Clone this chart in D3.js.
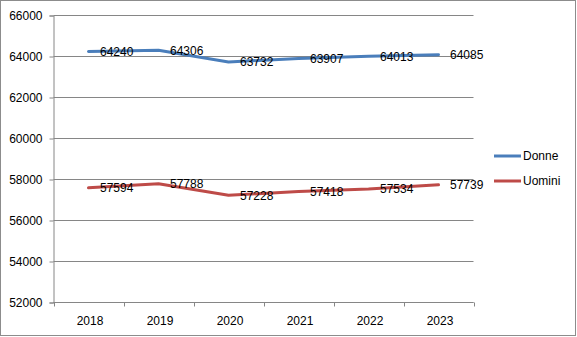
<!DOCTYPE html>
<html>
<head>
<meta charset="utf-8">
<script src="https://cdn.jsdelivr.net/npm/d3@7"></script>
<style>
  html, body { margin: 0; padding: 0; background: #fff; }
  svg { display: block; font-family: "Liberation Sans", Arial, sans-serif; }
</style>
</head>
<body>
<svg id="chart" width="577" height="337"></svg>
<script>
// Years on the category axis
const years = ["2018", "2019", "2020", "2021", "2022", "2023"];
// Population by sex
const donne = [64240, 64306, 63732, 63907, 64013, 64085];
const uomini = [57594, 57788, 57228, 57418, 57534, 57739];
// Value axis ticks
const yTicks = [52000, 54000, 56000, 58000, 60000, 62000, 64000, 66000];

const series = [
  { name: "Donne", values: donne, color: "#4a7ebb" },
  { name: "Uomini", values: uomini, color: "#be4b48" }
];

const svg = d3.select("#chart");
const gridColor = "#868686";

// Outer chart frame
svg.append("rect")
  .attr("x", 0.5).attr("y", 0.5)
  .attr("width", 575).attr("height", 335)
  .attr("fill", "#fff").attr("stroke", "#8c8c8c");

const plot = { left: 53.5, right: 473.5, top: 15.5, bottom: 302.5 };

const x = d3.scaleBand().domain(years).range([plot.left, plot.right]);
const y = d3.scaleLinear().domain([52000, 66000]).range([plot.bottom, plot.top]);

// Horizontal gridlines
svg.append("g")
  .selectAll("line")
  .data(yTicks)
  .join("line")
  .attr("x1", plot.left).attr("x2", plot.right)
  .attr("y1", d => y(d)).attr("y2", d => y(d))
  .attr("stroke", gridColor);

// Value axis
const yAxis = svg.append("g")
  .attr("transform", `translate(${plot.left},0)`)
  .call(d3.axisLeft(y).tickValues(yTicks).tickFormat(d3.format("d")).tickSize(4).tickPadding(7));
yAxis.select(".domain").attr("stroke", gridColor);
yAxis.selectAll(".tick line").attr("stroke", gridColor);
yAxis.selectAll("text").attr("font-size", 12).attr("fill", "#000")
  .attr("font-family", "Liberation Sans, Arial, sans-serif");

// Category axis with ticks between categories
const xAxisG = svg.append("g").attr("transform", `translate(0,${plot.bottom})`);
xAxisG.append("line")
  .attr("x1", plot.left).attr("x2", plot.right)
  .attr("stroke", gridColor);
const boundaries = years.map(d => x(d)).concat([x(years[years.length - 1]) + x.bandwidth()]);
xAxisG.selectAll("line.tick")
  .data(boundaries)
  .join("line")
  .attr("class", "tick")
  .attr("x1", d => Math.round(d) + 0.5).attr("x2", d => Math.round(d) + 0.5)
  .attr("y1", 0).attr("y2", 4)
  .attr("stroke", gridColor);
xAxisG.selectAll("text")
  .data(years)
  .join("text")
  .attr("x", d => x(d) + x.bandwidth() / 2 + 1.5)
  .attr("y", 22)
  .attr("text-anchor", "middle")
  .attr("font-size", 12)
  .attr("fill", "#000")
  .text(d => d);

// Series lines
const line = d3.line()
  .x((d, i) => x(years[i]) + x.bandwidth() / 2)
  .y(d => y(d));

series.forEach(s => {
  svg.append("path")
    .datum(s.values)
    .attr("d", line)
    .attr("fill", "none")
    .attr("stroke", s.color)
    .attr("stroke-width", 3)
    .attr("stroke-linecap", "round")
    .attr("stroke-linejoin", "round");
});

// Data labels to the right of each point
series.forEach(s => {
  svg.append("g")
    .selectAll("text")
    .data(s.values)
    .join("text")
    .attr("x", (d, i) => x(years[i]) + x.bandwidth() / 2 + 11.5)
    .attr("y", d => y(d))
    .attr("dy", "0.36em")
    .attr("font-size", 12)
    .attr("fill", "#000")
    .text(d => d);
});

// Legend
const legend = svg.append("g");
series.forEach((s, i) => {
  const ly = 156 + i * 25;
  legend.append("line")
    .attr("x1", 494).attr("x2", 521)
    .attr("y1", ly).attr("y2", ly)
    .attr("stroke", s.color).attr("stroke-width", 3);
  legend.append("text")
    .attr("x", 523).attr("y", ly)
    .attr("dy", "0.32em")
    .attr("font-size", 12)
    .attr("fill", "#000")
    .text(s.name);
});
</script>
</body>
</html>
